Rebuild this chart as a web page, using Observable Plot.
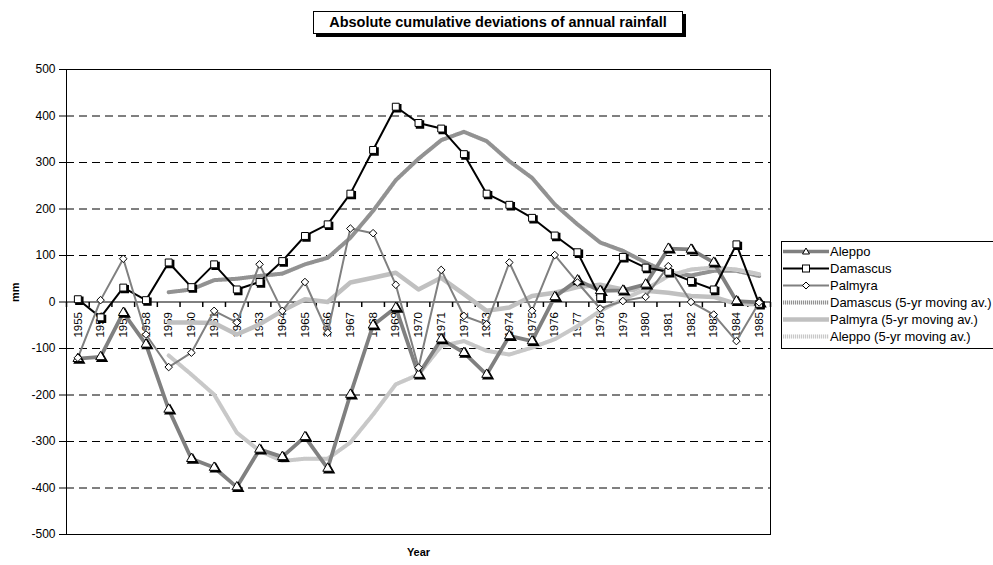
<!DOCTYPE html>
<html><head><meta charset="utf-8">
<script src="https://cdn.jsdelivr.net/npm/d3@7"></script>
<script src="https://cdn.jsdelivr.net/npm/@observablehq/plot@0.6"></script>
<style>
html,body{margin:0;padding:0;background:#fff;overflow:hidden;}
#wrap{position:relative;width:993px;height:565px;overflow:hidden;font-family:"Liberation Sans",Arial,sans-serif;}
#chart{position:absolute;left:0;top:0;}
#title{position:absolute;left:313px;top:11px;width:368px;height:21px;border:1px solid #000;box-shadow:3px 3px 0 #000;background:#fff;font-weight:bold;font-size:14.5px;line-height:21px;text-align:center;white-space:nowrap;}
#legend{position:absolute;left:781px;top:241px;width:240px;height:106px;border:1px solid #000;background:#fff;}
.row{position:absolute;left:0;height:17px;white-space:nowrap;font-size:13px;line-height:17px;}
.row svg{position:absolute;left:1px;top:0;}
.row span{position:absolute;left:48px;top:0;}
</style></head>
<body><div id="wrap"><div id="chart"></div><div id="title"></div><div id="legend"></div></div>
<script>
const titleText = "Absolute cumulative deviations of annual rainfall";
const years = [1955,1956,1957,1958,1959,1960,1961,1962,1963,1964,1965,1966,1967,1968,1969,1970,1971,1972,1973,1974,1975,1976,1977,1978,1979,1980,1981,1982,1983,1984,1985];
const aleppo = [-122,-118,-23,-91,-231,-337,-356,-398,-317,-333,-290,-358,-199,-50,-12,-156,-80,-109,-156,-73,-84,11,47,24,25,38,115,113,85,2,-1];
const damascus = [6,-33,31,4,85,32,81,27,43,88,142,167,233,327,420,385,373,318,233,209,181,143,107,10,97,74,65,45,27,124,-4];
const palmyra = [-120,4,93,-70,-140,-109,-19,-44,81,-19,43,-66,158,148,37,-141,69,-30,-48,85,-19,101,42,-14,2,11,77,0,-27,-84,-1];
const maYears = [1959,1960,1961,1962,1963,1964,1965,1966,1967,1968,1969,1970,1971,1972,1973,1974,1975,1976,1977,1978,1979,1980,1981,1982,1983,1984,1985];
const damascusMA = [21,27,47,50,56,61,81,95,138,196,262,308,348,366,346,303,267,210,167,128,110,85,63,57,67,67,56];
const palmyraMA = [-44,-44,-45,-70,-48,-19,6,0,42,52,63,27,52,17,-19,-12,13,20,32,37,27,24,20,13,11,-4,-5];
const aleppoMA = [-115,-156,-199,-281,-320,-342,-337,-337,-302,-242,-177,-156,-95,-84,-105,-113,-98,-80,-52,-19,6,27,56,70,74,70,60];
const yTicks = [-500,-400,-300,-200,-100,0,100,200,300,400,500];
const seriesNames = ["Aleppo","Damascus","Palmyra","Damascus (5-yr moving av.)","Palmyra (5-yr moving av.)","Aleppo (5-yr moving av.)"];
const yLabel = "mm", xLabel = "Year";

const rows = (xs, vs) => vs.map((v, i) => ({x: xs[i], y: v}));
const A = rows(years, aleppo), D = rows(years, damascus), P = rows(years, palmyra);
const DM = rows(maYears, damascusMA), PM = rows(maYears, palmyraMA), AM = rows(maYears, aleppoMA);
const bounds = [years[0] - 0.5, ...years.map(y => y + 0.5)];
const gridVals = yTicks.filter(v => v !== 0);
const tickSym = {draw(ctx) { ctx.moveTo(0, 0); ctx.lineTo(0, 5); }};

const chart = Plot.plot({
  width: 993, height: 565,
  marginLeft: 66, marginRight: 223, marginTop: 69, marginBottom: 31,
  style: {fontFamily: "Liberation Sans, Arial, sans-serif", fontSize: "12px", background: "transparent", color: "black"},
  x: {domain: [years[0] - 0.5, years[years.length - 1] + 0.5], axis: null},
  y: {domain: [yTicks[0], yTicks[yTicks.length - 1]], ticks: yTicks, tickSize: 7, tickPadding: 4, tickFormat: d => String(d), label: null},
  marks: [
    Plot.ruleY(gridVals, {stroke: "black", strokeDasharray: "8,5", strokeWidth: 1}),
    Plot.ruleY([0], {stroke: "black", strokeWidth: 1}),
    Plot.dot(bounds, {x: d => d, y: () => 0, symbol: tickSym, stroke: "black", fill: "none", r: 3}),
    Plot.text(years, {x: d => d, y: () => 0, text: d => String(d), rotate: -90, textAnchor: "end", dy: 10, fontSize: 11.5}),
    Plot.line(DM, {x: "x", y: "y", stroke: "#ececec", strokeWidth: 4}),
    Plot.line(DM, {x: "x", y: "y", stroke: "#929292", strokeWidth: 4, strokeDasharray: "1,1"}),
    Plot.line(PM, {x: "x", y: "y", stroke: "#c0c0c0", strokeWidth: 4.5}),
    Plot.line(AM, {x: "x", y: "y", stroke: "#f4f4f4", strokeWidth: 4}),
    Plot.line(AM, {x: "x", y: "y", stroke: "#c8c8c8", strokeWidth: 4, strokeDasharray: "1,1"}),
    Plot.line(A, {x: "x", y: "y", stroke: "#808080", strokeWidth: 3.8}),
    Plot.line(D, {x: "x", y: "y", stroke: "black", strokeWidth: 2}),
    Plot.line(P, {x: "x", y: "y", stroke: "#808080", strokeWidth: 2}),
    Plot.dot(A, {x: "x", y: "y", symbol: "triangle", r: 3.6, fill: "black", stroke: "black", dx: 1.5, dy: 1.5}),
    Plot.dot(A, {x: "x", y: "y", symbol: "triangle", r: 3.6, fill: "white", stroke: "black", strokeWidth: 1}),
    Plot.dot(D, {x: "x", y: "y", symbol: "square", r: 3.9, fill: "black", stroke: "black", dx: 1.5, dy: 1.5}),
    Plot.dot(D, {x: "x", y: "y", symbol: "square", r: 3.9, fill: "white", stroke: "black", strokeWidth: 1}),
    Plot.dot(P, {x: "x", y: "y", symbol: "diamond2", r: 3.4, fill: "white", stroke: "black", strokeWidth: 1}),
    Plot.frame({stroke: "black", strokeWidth: 1}),
    Plot.text([yLabel], {frameAnchor: "left", dx: -51, rotate: -90, text: d => d, fontWeight: "bold", fontSize: 11}),
    Plot.text([xLabel], {frameAnchor: "bottom", dy: 21, text: d => d, fontWeight: "bold", fontSize: 11})
  ]
});
document.getElementById("chart").appendChild(chart);
document.getElementById("title").textContent = titleText;

const sw = [
  '<line x1="0" y1="8.5" x2="46" y2="8.5" stroke="#808080" stroke-width="3.5"/><path d="M23,5 L26.5,11 L19.5,11 Z" fill="#fff" stroke="#000"/>',
  '<line x1="0" y1="8.5" x2="46" y2="8.5" stroke="#000" stroke-width="2"/><rect x="19.5" y="5" width="7" height="7" fill="#fff" stroke="#000"/>',
  '<line x1="0" y1="8.5" x2="46" y2="8.5" stroke="#808080" stroke-width="2"/><path d="M23,5 L26.5,8.5 L23,12 L19.5,8.5 Z" fill="#fff" stroke="#000"/>',
  '<line x1="0" y1="8.5" x2="46" y2="8.5" stroke="#ececec" stroke-width="4"/><line x1="0" y1="8.5" x2="46" y2="8.5" stroke="#929292" stroke-width="4" stroke-dasharray="1,1"/>',
  '<line x1="0" y1="8.5" x2="46" y2="8.5" stroke="#c0c0c0" stroke-width="4.5"/>',
  '<line x1="0" y1="8.5" x2="46" y2="8.5" stroke="#f4f4f4" stroke-width="4"/><line x1="0" y1="8.5" x2="46" y2="8.5" stroke="#c8c8c8" stroke-width="4" stroke-dasharray="1,1"/>'
];
const leg = document.getElementById("legend");
seriesNames.forEach((n, i) => {
  const r = document.createElement("div");
  r.className = "row";
  r.style.top = (1 + 17 * i) + "px";
  r.innerHTML = '<svg width="46" height="17">' + sw[i] + '</svg><span></span>';
  r.querySelector("span").textContent = n;
  leg.appendChild(r);
});
</script></body></html>
